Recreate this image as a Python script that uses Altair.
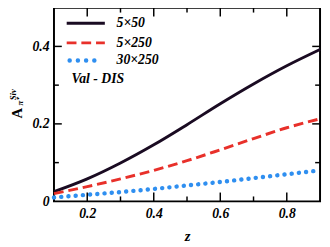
import altair as alt
import pandas as pd

z_vals = [0.1, 0.2, 0.3, 0.4, 0.5, 0.6, 0.7, 0.8, 0.9]
s_5x50 = [0.025, 0.058, 0.099, 0.146, 0.198, 0.252, 0.303, 0.350, 0.392]
s_5x250 = [0.020, 0.038, 0.058, 0.080, 0.105, 0.133, 0.162, 0.190, 0.213]
s_30x250 = [0.010, 0.017, 0.024, 0.032, 0.041, 0.050, 0.060, 0.070, 0.080]
series_names = ["5×50", "5×250", "30×250"]
x_major = [0.2, 0.4, 0.6, 0.8]
x_minor = [0.3, 0.5, 0.7]
y_major = [0.2, 0.4]
y_minor = [0.1, 0.3]
x_labels = [0.2, 0.4, 0.6, 0.8]
y_labels = [0.0, 0.2, 0.4]

W, H = 272, 198
FONT = "Liberation Serif"

XS = alt.Scale(domain=[0.1, 0.9], nice=False, zero=False)
YS = alt.Scale(domain=[0, 0.5], nice=False)
X_AX = alt.Axis(values=x_labels, format="~g", title="z", domain=False, ticks=False, grid=False,
                labelFont=FONT, labelFontSize=14, labelFontStyle="italic", labelFontWeight="bold",
                labelColor="black", labelPadding=6, titleFont=FONT, titleFontSize=15,
                titleFontStyle="italic", titleFontWeight="bold", titleColor="black", titlePadding=8)
Y_AX = alt.Axis(values=y_labels, format="~g", title=None, domain=False, ticks=False, grid=False,
                labelFont=FONT, labelFontSize=14, labelFontStyle="italic", labelFontWeight="bold",
                labelColor="black", labelPadding=5)

df = pd.DataFrame({
    "z": z_vals * 3,
    "A": s_5x50 + s_5x250 + s_30x250,
    "s": [series_names[0]] * 9 + [series_names[1]] * 9 + [series_names[2]] * 9,
})

styles = {
    "5×50": dict(color="#1a0b22", strokeWidth=3),
    "5×250": dict(color="#e8302a", strokeWidth=3, strokeDash=[10, 5]),
    "30×250": dict(color="#2f8ff0", strokeWidth=4.5, strokeDash=[0.1, 7.3], strokeCap="round"),
}

layers = []
for name in series_names:
    layers.append(
        alt.Chart(df[df.s == name]).mark_line(interpolate="monotone", **styles[name]).encode(
            x=alt.X("z:Q", scale=XS, axis=X_AX),
            y=alt.Y("A:Q", scale=YS, axis=Y_AX),
        )
    )

def xticks(vals, length):
    d = pd.DataFrame({"z": vals})
    b = alt.Chart(d).mark_rule(color="black", strokeWidth=1.5).encode(
        x=alt.X("z:Q", scale=XS, axis=X_AX), y=alt.value(H), y2=alt.value(H - length))
    t = alt.Chart(d).mark_rule(color="black", strokeWidth=1.5).encode(
        x=alt.X("z:Q", scale=XS, axis=X_AX), y=alt.value(0), y2=alt.value(length))
    return [b, t]

def yticks(vals, length):
    d = pd.DataFrame({"A": vals})
    l = alt.Chart(d).mark_rule(color="black", strokeWidth=1.5).encode(
        y=alt.Y("A:Q", scale=YS, axis=Y_AX), x=alt.value(0), x2=alt.value(length))
    r = alt.Chart(d).mark_rule(color="black", strokeWidth=1.5).encode(
        y=alt.Y("A:Q", scale=YS, axis=Y_AX), x=alt.value(W), x2=alt.value(W - length))
    return [l, r]

layers += xticks(x_major, 9) + xticks(x_minor, 5) + yticks(y_major, 8) + yticks(y_minor, 5)

# legend
leg_y = [16, 36, 54]
for name, yy in zip(series_names, leg_y):
    st = dict(styles[name])
    if name == "30×250":
        x0, x1 = 16, 49.5
        st["strokeDash"] = [0.1, 8.3]
    else:
        x0, x1 = 13, 52
    layers.append(
        alt.Chart(pd.DataFrame({"s": [name]})).mark_rule(**st).encode(
            x=alt.value(x0), x2=alt.value(x1), y=alt.value(yy))
    )
    layers.append(
        alt.Chart(pd.DataFrame({"s": [name]})).mark_text(
            align="left", baseline="middle", font=FONT, fontSize=14, fontStyle="italic",
            fontWeight="bold", color="black").encode(
            text="s:N", x=alt.value(64), y=alt.value(yy))
    )
layers.append(
    alt.Chart(pd.DataFrame({"t": ["Val - DIS"]})).mark_text(
        align="left", baseline="middle", font=FONT, fontSize=14, fontStyle="italic",
        fontWeight="bold", color="black").encode(text="t:N", x=alt.value(18), y=alt.value(73))
)

# y-axis title pieces
ytitle = [("A", -37.5, 108, 15, "normal"), ("Siv", -41.5, 89, 9, "italic"), ("π⁺", -34.5, 96, 9, "italic")]
for txt, xx, yy, fs, sty in ytitle:
    layers.append(
        alt.Chart(pd.DataFrame({"t": [txt]})).mark_text(
            align="center", baseline="middle", angle=270, font=FONT, fontSize=fs,
            fontStyle=sty, fontWeight="bold", color="black").encode(
            text="t:N", x=alt.value(xx), y=alt.value(yy))
    )

chart = alt.layer(*layers).properties(
    width=W, height=H,
    autosize=alt.AutoSizeParams(type="none"),
    padding={"left": 47, "top": -3, "right": 2, "bottom": 44},
    background="white",
).configure_view(stroke="black", strokeWidth=2)

chart.save("out.html", embed_options={"renderer": "svg", "actions": False})
